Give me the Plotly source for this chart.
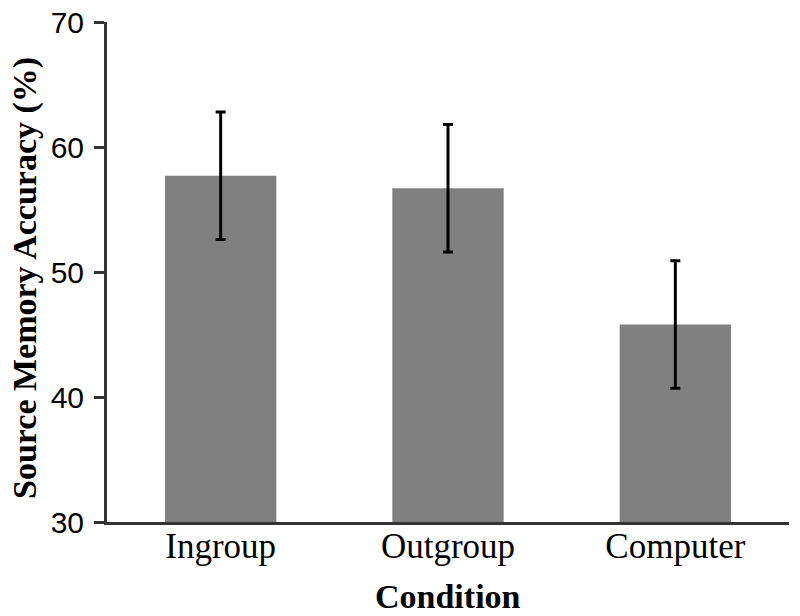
import plotly.graph_objects as go

categories = ["Ingroup", "Outgroup", "Computer"]
accuracy = [57.7, 56.7, 45.8]
errors = [5.1, 5.1, 5.1]
y_ticks = [30, 40, 50, 60, 70]
x_title = "Condition"
y_title = "Source Memory Accuracy (%)"

fig = go.Figure()
fig.add_trace(go.Bar(
    x=categories,
    y=accuracy,
    width=0.49,
    marker=dict(color="#808080", line=dict(width=0)),
    error_y=dict(type="data", array=errors, visible=True,
                 color="#000000", thickness=3, width=5),
))

serif = "Palatino Linotype, Book Antiqua, Liberation Serif, serif"

fig.update_layout(
    width=800, height=616,
    margin=dict(l=107, r=11, t=22, b=94),
    paper_bgcolor="white", plot_bgcolor="white",
    showlegend=False,
    xaxis=dict(
        type="category",
        range=[-0.5, 2.5],
        automargin=False,
        showline=True, linecolor="#333333", linewidth=3,
        ticks="", showgrid=False, zeroline=False,
        tickfont=dict(family=serif, size=35, color="#000000"),
        ticklabelstandoff=-9,
        ticklabeloverflow="allow",
    ),
    yaxis=dict(
        range=[30, 70],
        tickvals=y_ticks,
        automargin=False,
        showline=True, linecolor="#333333", linewidth=3,
        ticks="outside", ticklen=10, tickwidth=3, tickcolor="#333333",
        showgrid=False, zeroline=False,
        tickfont=dict(family="Liberation Sans, Arial, sans-serif", size=30, color="#000000"),
        ticklabelstandoff=4,
        ticklabeloverflow="allow",
    ),
    annotations=[
        dict(text="<b>" + x_title + "</b>", xref="paper", yref="paper",
             x=0.5, y=0, xanchor="center", yanchor="top", yshift=-54,
             showarrow=False,
             font=dict(family=serif, size=34, color="#000000")),
        dict(text="<b>" + y_title + "</b>", xref="paper", yref="paper",
             x=0, y=0.5, xanchor="center", yanchor="middle",
             xshift=-82, yshift=-6, textangle=-90,
             showarrow=False,
             font=dict(family=serif, size=34, color="#000000")),
    ],
)

fig.write_html("out.html", config={"displayModeBar": False},
               post_script="document.body.style.margin='0';")
